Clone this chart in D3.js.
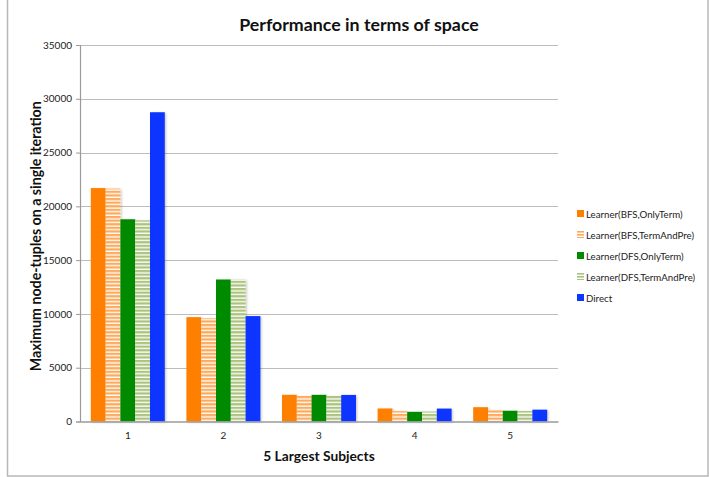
<!DOCTYPE html>
<html>
<head>
<meta charset="utf-8">
<script src="https://cdn.jsdelivr.net/npm/d3@7"></script>
<style>
  html, body { margin: 0; padding: 0; background: #fff; }
  svg { display: block; font-family: Lato, "Open Sans", sans-serif; }
</style>
</head>
<body>
<svg id="chart" width="710" height="477"></svg>
<script>
// Data
const subjects = ["1", "2", "3", "4", "5"];
const seriesNames = [
  "Learner(BFS,OnlyTerm)",
  "Learner(BFS,TermAndPre)",
  "Learner(DFS,OnlyTerm)",
  "Learner(DFS,TermAndPre)",
  "Direct"
];
const bfsOnlyTerm   = [21700, 9700, 2480, 1210, 1330];
const bfsTermAndPre = [21650, 9600, 2380, 960, 1050];
const dfsOnlyTerm   = [18800, 13200, 2480, 900, 1000];
const dfsTermAndPre = [18700, 13200, 2380, 930, 970];
const direct        = [28750, 9800, 2470, 1200, 1100];
const yTicks = [0, 5000, 10000, 15000, 20000, 25000, 30000, 35000];

const seriesValues = [bfsOnlyTerm, bfsTermAndPre, dfsOnlyTerm, dfsTermAndPre, direct];
const fills = ["#ff7f00", "url(#hatchOrange)", "#008a00", "url(#hatchGreen)", "#0a36ff"];
const legendFills = ["#ff7f00", "url(#legOrange)", "#008a00", "url(#legGreen)", "#0a36ff"];

const svg = d3.select("#chart");
const defs = svg.append("defs");

function stripes(id, color, period, band) {
  const p = defs.append("pattern")
    .attr("id", id).attr("patternUnits", "userSpaceOnUse")
    .attr("width", 8).attr("height", period);
  p.append("rect").attr("width", 8).attr("height", period).attr("fill", "#fdfbf7");
  p.append("rect").attr("width", 8).attr("height", band).attr("fill", color);
}
stripes("hatchOrange", "#ffa95a", 3.6, 2.2);
stripes("hatchGreen", "#a9c47c", 3.6, 2.2);
stripes("legOrange", "#ffa95a", 3, 1.6);
stripes("legGreen", "#a9c47c", 3, 1.6);

const shadow = defs.append("filter").attr("id", "shadow")
  .attr("x", "-20%").attr("y", "-20%").attr("width", "150%").attr("height", "150%");
shadow.append("feDropShadow").attr("dx", 1.2).attr("dy", 0.8)
  .attr("stdDeviation", 0.9).attr("flood-color", "#000").attr("flood-opacity", 0.22);

// Outer frame
svg.append("rect")
  .attr("x", 7.5).attr("y", -2).attr("width", 700.5).attr("height", 478)
  .attr("fill", "none").attr("stroke", "#b8b8b8").attr("stroke-width", 1.5);

const plot = { left: 80, right: 558, top: 45, bottom: 421.5 };

const x0 = d3.scaleBand().domain(subjects)
  .range([plot.left, plot.right]).paddingInner(0.226).paddingOuter(0.113);
const x1 = d3.scaleBand().domain(d3.range(seriesNames.length))
  .range([0, x0.bandwidth()]);
const y = d3.scaleLinear().domain([0, 35000]).range([plot.bottom, plot.top]);

// Gridlines
svg.append("g").selectAll("line")
  .data(yTicks.filter(d => d > 0))
  .join("line")
  .attr("x1", plot.left).attr("x2", plot.right)
  .attr("y1", d => Math.round(y(d)) + 0.5).attr("y2", d => Math.round(y(d)) + 0.5)
  .attr("stroke", "#bdbdbd").attr("stroke-width", 1.2);

// Y axis
const yAxis = svg.append("g")
  .attr("transform", `translate(${plot.left},0)`)
  .call(d3.axisLeft(y).tickValues(yTicks).tickSize(4).tickPadding(4).tickFormat(d3.format("d")));
yAxis.select(".domain").attr("stroke", "#9a9a9a").attr("stroke-width", 1.2);
yAxis.selectAll(".tick line").attr("stroke", "#9a9a9a");
yAxis.selectAll("text").attr("font-size", 10).attr("fill", "#222")
  .attr("font-family", "Lato, sans-serif");

// Bars
const groups = svg.append("g").selectAll("g")
  .data(subjects)
  .join("g")
  .attr("transform", d => `translate(${x0(d)},0)`);

groups.selectAll("rect")
  .data((d, i) => seriesValues.map((vals, s) => ({ s, v: vals[i] })))
  .join("rect")
  .attr("x", d => x1(d.s))
  .attr("width", x1.bandwidth())
  .attr("y", d => y(d.v))
  .attr("height", d => y(0) - y(d.v))
  .attr("fill", d => fills[d.s])
  .attr("filter", "url(#shadow)");

// X axis
const xAxis = svg.append("g")
  .attr("transform", `translate(0,${plot.bottom})`)
  .call(d3.axisBottom(x0).tickSize(0).tickPadding(10));
xAxis.select(".domain").attr("stroke", "#9a9a9a").attr("stroke-width", 1.5);
xAxis.selectAll("text").attr("font-size", 10).attr("fill", "#222")
  .attr("font-family", "Lato, sans-serif");

// Titles
svg.append("text")
  .attr("x", 359).attr("y", 31)
  .attr("text-anchor", "middle")
  .attr("font-size", 17.8).attr("font-weight", "bold").attr("fill", "#111")
  .text("Performance in terms of space");

svg.append("text")
  .attr("x", (plot.left + plot.right) / 2).attr("y", 461)
  .attr("text-anchor", "middle")
  .attr("font-size", 13.8).attr("font-weight", "bold").attr("fill", "#111")
  .text("5 Largest Subjects");

svg.append("text")
  .attr("transform", `translate(41,${(plot.top + plot.bottom) / 2 + 3}) rotate(-90)`)
  .attr("text-anchor", "middle")
  .attr("font-size", 14.2).attr("font-weight", "bold").attr("fill", "#111")
  .text("Maximum node-tuples on a single iteration");

// Legend
const legend = svg.append("g").attr("transform", "translate(577,210)");
const items = legend.selectAll("g")
  .data(seriesNames)
  .join("g")
  .attr("transform", (d, i) => `translate(0,${i * 21})`);
items.append("rect")
  .attr("width", 7).attr("height", 7)
  .attr("fill", (d, i) => legendFills[i]);
items.append("text")
  .attr("x", 9).attr("y", 7.5)
  .attr("font-size", 9.7).attr("fill", "#222")
  .text(d => d);
</script>
</body>
</html>
